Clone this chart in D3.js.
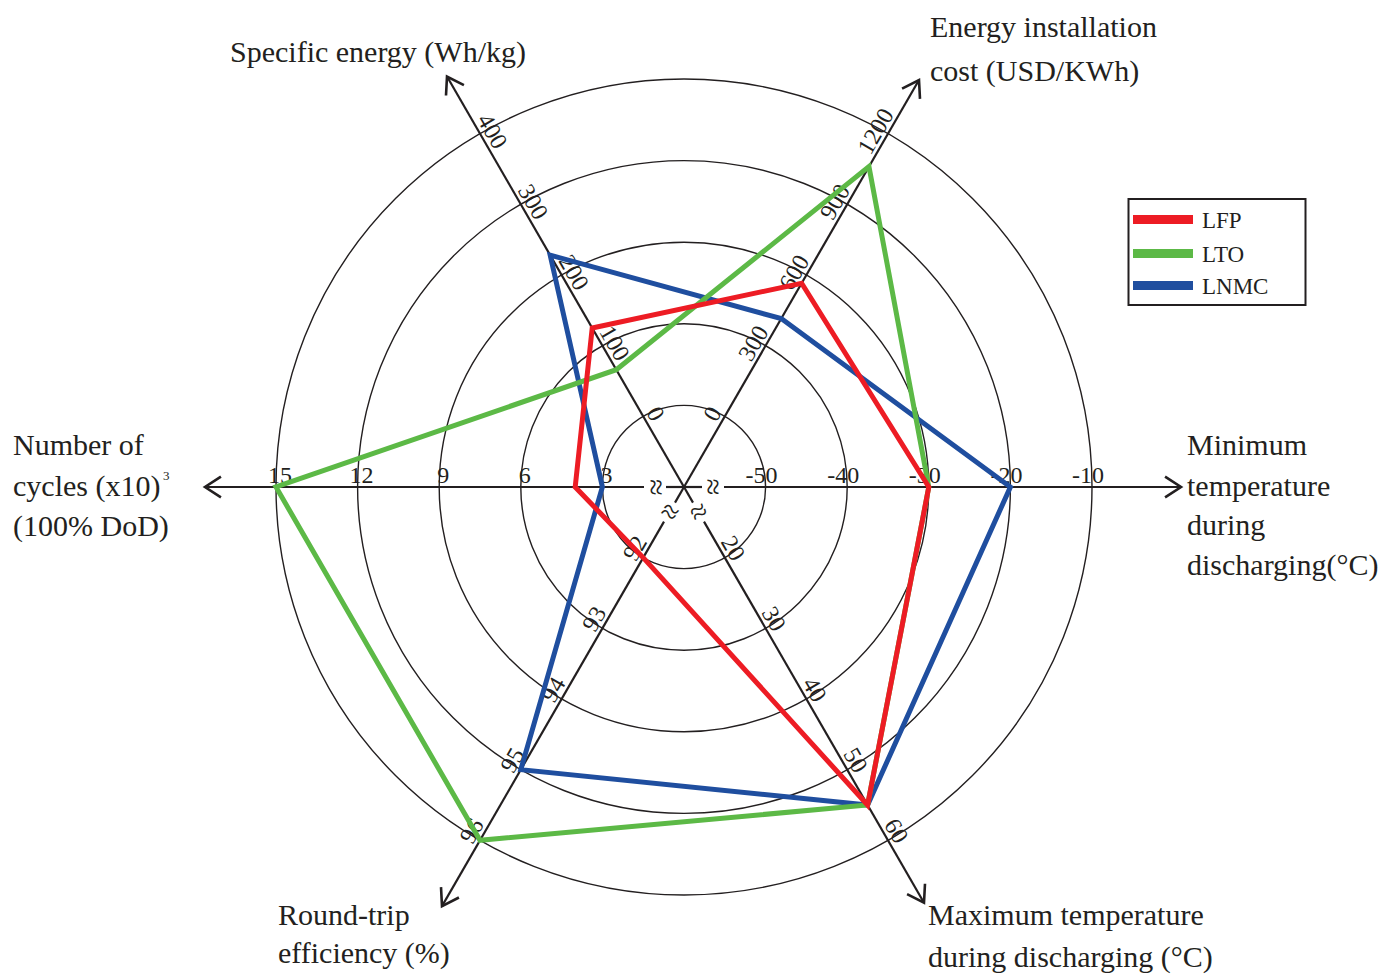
<!DOCTYPE html>
<html><head><meta charset="utf-8">
<script src="https://cdn.jsdelivr.net/npm/d3@7"></script>
<style>
html,body{margin:0;padding:0;background:#fff;}
svg{display:block;font-family:"Liberation Serif","Times New Roman",serif;}
</style>
</head><body>
<svg id="chart" width="1386" height="974"></svg>
<script>
// ---------- data ----------
const axisKeys = ["Specific energy", "Energy installation cost", "Minimum temperature", "Maximum temperature", "Round-trip efficiency", "Number of cycles"];
const axisMin = [-100, -300, -60, 10, 91, 0];
const axisMax = [400, 1200, -10, 60, 96, 15];
const tickValues = [
  [0, 100, 200, 300, 400],
  [0, 300, 600, 900, 1200],
  [-50, -40, -30, -20, -10],
  [20, 30, 40, 50, 60],
  [92, 93, 94, 95, 96],
  [3, 6, 9, 12, 15]
];
const seriesNames = ["LFP", "LTO", "LNMC"];
const lfpValues  = [125, 565, -30, 55, 92, 4];
const ltoValues  = [66, 1060, -30, 55, 96, 15];
const lnmcValues = [228, 415, -20, 55, 95, 3];
const seriesColors = ["#ed1c24", "#5cb946", "#1f4e9f"];

// ---------- layout ----------
const cx = 684, cy = 487, R = 408, ringCount = 5;
const axisAngles = [120, 60, 0, -60, -120, 180];      // degrees, math convention
const axisLength = [474, 470, 497, 480, 484, 479];
const axisBroken = [false, false, true, true, true, true];
const ink = "#231f20";

const svg = d3.select("#chart");
const g = svg.append("g").attr("transform", `translate(${cx},${cy})`);

const scales = axisMin.map((m, i) => d3.scaleLinear().domain([m, axisMax[i]]).range([0, R]));
const rad = d => d * Math.PI / 180;
const dir = i => [Math.cos(rad(axisAngles[i])), -Math.sin(rad(axisAngles[i]))];

// rings
const ringScale = d3.scaleLinear().domain([0, ringCount]).range([0, R]);
g.selectAll("circle.ring").data(d3.range(1, ringCount + 1)).join("circle")
  .attr("class", "ring").attr("r", d => ringScale(d))
  .attr("fill", "none").attr("stroke", ink).attr("stroke-width", 1.4);

// axes
axisKeys.forEach((k, i) => {
  const [ux, uy] = dir(i);
  const L = axisLength[i];
  const segs = axisBroken[i] ? [[0, 18], [40, L]] : [[0, L]];
  segs.forEach(([a, b]) => {
    g.append("line").attr("x1", ux * a).attr("y1", uy * a).attr("x2", ux * b).attr("y2", uy * b)
      .attr("stroke", ink).attr("stroke-width", 2.2);
  });
  // arrow head
  const tip = [ux * L, uy * L];
  const back = Math.atan2(-uy, -ux), spread = rad(33), al = 19;
  const p1 = [tip[0] + al * Math.cos(back + spread), tip[1] + al * Math.sin(back + spread)];
  const p2 = [tip[0] + al * Math.cos(back - spread), tip[1] + al * Math.sin(back - spread)];
  g.append("path").attr("d", `M${p1}L${tip}L${p2}`).attr("fill", "none")
    .attr("stroke", ink).attr("stroke-width", 2.6).attr("stroke-linejoin", "miter");
  if (axisBroken[i]) {
    const screenAng = -axisAngles[i];
    g.append("text").text("≈").attr("transform", `translate(${ux * 29},${uy * 29}) rotate(${screenAng + 90})`)
      .attr("text-anchor", "middle").attr("dominant-baseline", "central")
      .attr("font-size", 30).attr("fill", ink);
  }
  // tick labels
  const a = axisAngles[i];
  const rot = Math.cos(rad(a)) > 0.01 ? -a : -(a - 180);
  const upx = Math.sin(rad(rot)), upy = -Math.cos(rad(rot));
  tickValues[i].forEach(v => {
    const r = scales[i](v) - 4;
    const x = ux * r + upx * 4, y = uy * r + upy * 4;
    g.append("text").text(v).attr("transform", `translate(${x},${y}) rotate(${rot})`)
      .attr("text-anchor", "middle").attr("font-size", 24).attr("fill", ink);
  });
});

// series polygons
const allSeries = [lfpValues, ltoValues, lnmcValues];
const radial = d3.lineRadial()
  .angle((d, i) => rad(90 - axisAngles[i]))
  .radius((d, i) => scales[i](d))
  .curve(d3.curveLinearClosed);
[2, 1, 0].forEach(s => {
  g.append("path").attr("d", radial(allSeries[s])).attr("fill", "none")
    .attr("stroke", seriesColors[s]).attr("stroke-width", 5).attr("stroke-linejoin", "miter")
    .attr("stroke-miterlimit", 10);
});

// axis titles
const titleSize = 30;
function multiline(x, lines) {
  const t = svg.append("text").attr("font-size", titleSize).attr("fill", ink);
  lines.forEach(([txt, y]) => t.append("tspan").attr("x", x).attr("y", y).text(txt));
  return t;
}
multiline(230, [["Specific energy (Wh/kg)", 62]]);
multiline(930, [["Energy installation", 37], ["cost (USD/KWh)", 81]]);
multiline(1187, [["Minimum", 455], ["temperature", 496], ["during", 535], ["discharging(°C)", 575]]);
multiline(13, [["Number of", 455], ["cycles (x10)", 496], ["(100% DoD)", 536]]);
svg.append("text").attr("x", 163).attr("y", 480).attr("font-size", 13).attr("fill", ink).text("3");
multiline(278, [["Round-trip", 925], ["efficiency (%)", 963]]);
multiline(928, [["Maximum temperature", 925], ["during discharging (°C)", 967]]);

// legend
const lg = svg.append("g");
lg.append("rect").attr("x", 1128.5).attr("y", 199).attr("width", 177).attr("height", 106)
  .attr("fill", "#fff").attr("stroke", ink).attr("stroke-width", 2);
const legY = [219.5, 253.5, 285.5];
seriesNames.forEach((n, i) => {
  lg.append("rect").attr("x", 1133).attr("y", legY[i] - 4.5).attr("width", 60).attr("height", 9)
    .attr("fill", seriesColors[i]);
  lg.append("text").attr("x", 1202).attr("y", legY[i] + 8).attr("font-size", 23).attr("fill", ink).text(n);
});
</script>
</body></html>
